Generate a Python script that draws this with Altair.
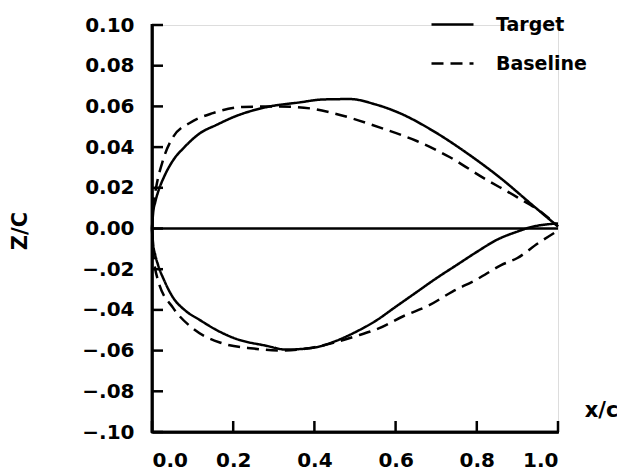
import altair as alt
import pandas as pd

# Target airfoil (solid)
target_upper_x = [0.0, 0.003, 0.008, 0.015, 0.03, 0.052, 0.08, 0.118, 0.16, 0.2, 0.283, 0.365, 0.42, 0.488, 0.55, 0.61, 0.692, 0.776, 0.857, 0.94, 1.0]
target_upper_z = [0.0, 0.008, 0.013, 0.018, 0.0255, 0.0335, 0.040, 0.0468, 0.051, 0.0547, 0.0597, 0.062, 0.0634, 0.0636, 0.061, 0.0567, 0.048, 0.037, 0.025, 0.011, 0.001]
target_lower_x = [0.0, 0.003, 0.008, 0.015, 0.03, 0.052, 0.08, 0.118, 0.16, 0.2, 0.283, 0.33, 0.40, 0.45, 0.50, 0.55, 0.60, 0.65, 0.70, 0.75, 0.80, 0.85, 0.90, 0.93, 1.0]
target_lower_z = [0.0, -0.008, -0.013, -0.018, -0.0255, -0.034, -0.040, -0.045, -0.050, -0.0537, -0.0577, -0.0595, -0.0585, -0.0555, -0.051, -0.0455, -0.0385, -0.0315, -0.0245, -0.018, -0.0115, -0.0055, -0.0015, 0.0005, 0.0025]

# Baseline airfoil (dashed)
base_upper_x = [0.0, 0.003, 0.01, 0.027, 0.052, 0.094, 0.15, 0.224, 0.31, 0.39, 0.446, 0.57, 0.652, 0.734, 0.815, 0.9, 0.963, 1.0]
base_upper_z = [0.0, 0.011, 0.020, 0.0335, 0.045, 0.052, 0.0567, 0.0597, 0.060, 0.059, 0.0567, 0.049, 0.043, 0.035, 0.025, 0.0153, 0.0074, 0.001]
base_lower_x = [0.0, 0.003, 0.015, 0.052, 0.1, 0.167, 0.25, 0.32, 0.38, 0.44, 0.5, 0.56, 0.62, 0.68, 0.74, 0.8, 0.86, 0.9, 0.95, 1.0]
base_lower_z = [0.0, -0.012, -0.0256, -0.039, -0.049, -0.056, -0.059, -0.060, -0.059, -0.0565, -0.053, -0.049, -0.043, -0.038, -0.031, -0.025, -0.018, -0.0145, -0.0074, -0.001]

chord_x = [0.0, 1.0]
chord_z = [0.0, 0.0]

x_ticks = [0.0, 0.2, 0.4, 0.6, 0.8, 1.0]
z_ticks = [-0.10, -0.08, -0.06, -0.04, -0.02, 0.0, 0.02, 0.04, 0.06, 0.08, 0.10]

series_names = ["Target", "Baseline"]

rows = []
for name, surf, xs, zs in [
    ("Target", "upper", target_upper_x, target_upper_z),
    ("Target", "lower", target_lower_x, target_lower_z),
    ("Baseline", "upper", base_upper_x, base_upper_z),
    ("Baseline", "lower", base_lower_x, base_lower_z),
]:
    for x, z in zip(xs, zs):
        rows.append({"series": name, "surface": name + "-" + surf, "x": x, "z": z})
df = pd.DataFrame(rows)
chord_df = pd.DataFrame({"x": chord_x, "z": chord_z})
xt_df = pd.DataFrame({"t": x_ticks})
zt_df = pd.DataFrame({"t": z_ticks})

FONT = "DejaVu Sans"
W, H = 406, 407

xscale = alt.Scale(domain=[0, 1], nice=False, zero=False)
zscale = alt.Scale(domain=[-0.10, 0.10], nice=False, zero=False)

x_axis = alt.Axis(
    values=x_ticks, format=".1f", ticks=False, tickSize=0, grid=False,
    domainColor="black", domainWidth=2.5, labelFont=FONT, labelFontSize=20,
    labelFontWeight="bold", labelColor="black", labelPadding=18,
    title="x/c", titleFont=FONT, titleFontSize=21, titleFontWeight="bold",
    titleX=W + 43, titleY=-22, titleAlign="center", titleBaseline="middle",
)
z_axis = alt.Axis(
    values=z_ticks, ticks=False, tickSize=0, grid=False,
    labelExpr="datum.value < -0.0001 ? '\u2212' + slice(format(abs(datum.value), '.2f'), 1) : format(abs(datum.value), '.2f')",
    domainColor="black", domainWidth=2.5, labelFont=FONT, labelFontSize=20,
    labelFontWeight="bold", labelColor="black", labelPadding=18,
    title="Z/C", titleFont=FONT, titleFontSize=21, titleFontWeight="bold",
    titleX=-132, titleY=H / 2 + 2, titleAngle=-90, titleAlign="center", titleBaseline="middle",
)

lines = alt.Chart(df).mark_line(color="black", strokeWidth=2.5, interpolate="monotone").encode(
    x=alt.X("x:Q", scale=xscale, axis=x_axis),
    y=alt.Y("z:Q", scale=zscale, axis=z_axis),
    detail="surface:N",
    order="x:Q",
    strokeDash=alt.StrokeDash(
        "series:N",
        scale=alt.Scale(domain=series_names, range=[[1, 0], [12, 7]]),
        legend=alt.Legend(
            title=None, orient="none", legendX=278, legendY=-23, padding=0,
            symbolType="stroke", symbolSize=1764, symbolStrokeWidth=2.5,
            symbolStrokeColor="black", labelOffset=21, rowPadding=6,
            labelFont=FONT, labelFontSize=19, labelFontWeight="bold", labelColor="black",
        ),
    ),
)

chord = alt.Chart(chord_df).mark_line(color="black", strokeWidth=2.5).encode(
    x=alt.X("x:Q", scale=xscale), y=alt.Y("z:Q", scale=zscale)
)

# inward ticks and axis lines
zticks = alt.Chart(zt_df).mark_rule(color="black", strokeWidth=2.5).encode(
    y=alt.Y("t:Q", scale=zscale), x=alt.datum(0, scale=xscale), x2=alt.value(11)
)
xticks = alt.Chart(xt_df).mark_rule(color="black", strokeWidth=2.5).encode(
    x=alt.X("t:Q", scale=xscale), y=alt.value(H), y2=alt.value(H - 11)
)
left_line = alt.Chart(chord_df).mark_rule(color="black", strokeWidth=2.5).encode(
    x=alt.datum(0, scale=xscale), y=alt.value(-1), y2=alt.value(H + 1)
)
bottom_line = alt.Chart(chord_df).mark_rule(color="black", strokeWidth=2.5).encode(
    y=alt.value(H), x=alt.value(-1), x2=alt.value(W + 1)
)

chart = alt.layer(chord, lines, zticks, xticks, left_line, bottom_line).properties(
    width=W, height=H,
    autosize=alt.AutoSizeParams(type="none"),
    padding={"left": 144, "top": 17, "right": 59, "bottom": 41},
).configure_view(stroke=None).configure(background="white")

chart.save("out.html", embed_options={"renderer": "svg", "actions": False})
